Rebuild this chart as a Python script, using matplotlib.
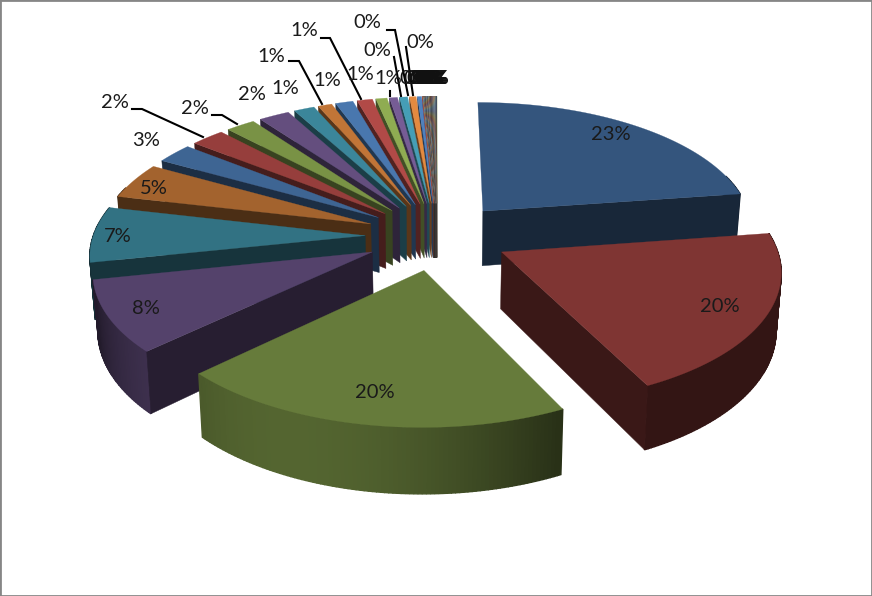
import numpy as np
import matplotlib
matplotlib.use("Agg")
import matplotlib.pyplot as plt

plt.rcParams["font.family"] = ["Lato", "DejaVu Sans"]

# slice shares in percent, clockwise from 12 o'clock
big_vals = [22.7, 20.0, 20.2, 8.8, 6.9, 4.5, 2.5, 2.3, 2.0, 2.1, 1.4, 0.95, 1.2, 1.05, 0.76, 0.54, 0.55, 0.45, 0.27]
tiny_vals = [0.01] * 80
vals = big_vals + tiny_vals

base_cols = ["#4F81BD", "#C0504D", "#9BBB59", "#8064A2", "#4BACC6", "#F79646"]
cycle_gain = [0.66, 0.78, 0.92, 1.0, 0.85, 0.7, 0.95, 0.75, 1.0, 0.8]

# label text + centre in pixels
labels = ["23%", "20%", "20%", "8%", "7%", "5%", "3%", "2%", "2%", "2%",
          "1%", "1%", "1%", "1%", "1%", "1%", "0%", "0%", "0%"]
label_x = [611, 720, 375, 146, 118, 154, 146, 115, 195, 252, 285, 271, 304, 327, 360, 388, 377, 367, 420]
label_y = [134, 307, 392, 309, 237, 188, 141, 103, 108, 94, 89, 56, 31, 80, 75, 78, 50, 23, 42]
clump_x = [413, 417, 420, 423, 425, 427, 428, 429, 430, 431, 432, 433, 434, 435]

leaders = [
    ([132, 142, 203], [109, 109, 137]),
    ([212, 222, 237], [115, 115, 124]),
    ([289, 299, 322], [61, 61, 104]),
    ([321, 330, 361], [38, 38, 99]),
    ([390, 390], [91, 96]),
    ([387, 395, 408], [30, 30, 95]),
    ([394, 401], [57, 96]),
    ([406, 413], [47, 95]),
]

CX, CY = 437.0, 236.0
A, B, K = 272.0, 128.0, 0.125
EXPL = 0.264
H = 56.0


def project(x, y):
    den = 1 + K * y
    return CX + A * x / den, CY - B * y / den


def drop(sx, sy, y):
    return CX + (sx - CX) * 0.985, sy + H / (1 + K * y)


def scale_col(col, f):
    rgb = np.array(matplotlib.colors.to_rgb(col)) * f
    return tuple(np.clip(rgb, 0, 1))


def wall_shade(deg):
    d = (deg - 205) * 1.8
    if abs(d) > 90:
        return 0.40
    return 0.40 + 0.42 * np.cos(np.radians(d))


fig = plt.figure(figsize=(8.72, 5.96), dpi=100)
ax = fig.add_axes([0, 0, 1, 1])
ax.set_xlim(0, 872)
ax.set_ylim(596, 0)
ax.set_xticks([])
ax.set_yticks([])
for s in ax.spines.values():
    s.set_color("#868686")
    s.set_linewidth(2)

total = sum(vals)
ends = np.cumsum(vals) / total * 360
starts = ends - np.array(vals) / total * 360
mids = (starts + ends) / 2

# back slices first
order = np.argsort(-np.cos(np.radians(mids)))
for i in order:
    top = scale_col(base_cols[i % 6], cycle_gain[(i // 6) % len(cycle_gain)])
    ex = EXPL * np.sin(np.radians(mids[i]))
    ey = EXPL * np.cos(np.radians(mids[i]))
    n = max(2, int((ends[i] - starts[i]) / 0.75) + 2)
    th = np.linspace(starts[i], ends[i], n)
    wx = ex + np.sin(np.radians(th))
    wy = ey + np.cos(np.radians(th))
    sx, sy = project(wx, wy)
    bx, by = drop(sx, sy, wy)
    ax0, ay0 = project(ex, ey)
    abx, aby = drop(ax0, ay0, ey)
    dark = scale_col(top, 0.46)

    for j in range(n - 1):
        # back part of the rim is hidden
        if np.cos(np.radians(th[j])) > 0.3:
            continue
        c = scale_col(top, wall_shade((th[j] + th[j + 1]) / 2))
        ax.fill([sx[j], sx[j + 1], bx[j + 1], bx[j]], [sy[j], sy[j + 1], by[j + 1], by[j]],
                color=c, lw=1.0)
    # a radial wall only shows when it faces the viewer
    if starts[i] > 180:
        ax.fill([ax0, sx[0], bx[0], abx], [ay0, sy[0], by[0], aby], color=dark, lw=0.3)
    if ends[i] < 180:
        ax.fill([ax0, sx[-1], bx[-1], abx], [ay0, sy[-1], by[-1], aby], color=dark, lw=0.3)
    ax.fill(np.r_[ax0, sx], np.r_[ay0, sy], color=top, lw=0.2)

for xs, ys in leaders:
    ax.plot(xs, ys, color="black", lw=1.5, solid_joinstyle="miter")

for t, x, y in zip(labels, label_x, label_y):
    ax.text(x, y, t, ha="center", va="center", fontsize=14.5, color="#1a1a1a")
for x in clump_x:
    ax.text(x, 78, "0%", ha="center", va="center", fontsize=14.5, color="#111111")

fig.savefig("out.png", dpi=100)
